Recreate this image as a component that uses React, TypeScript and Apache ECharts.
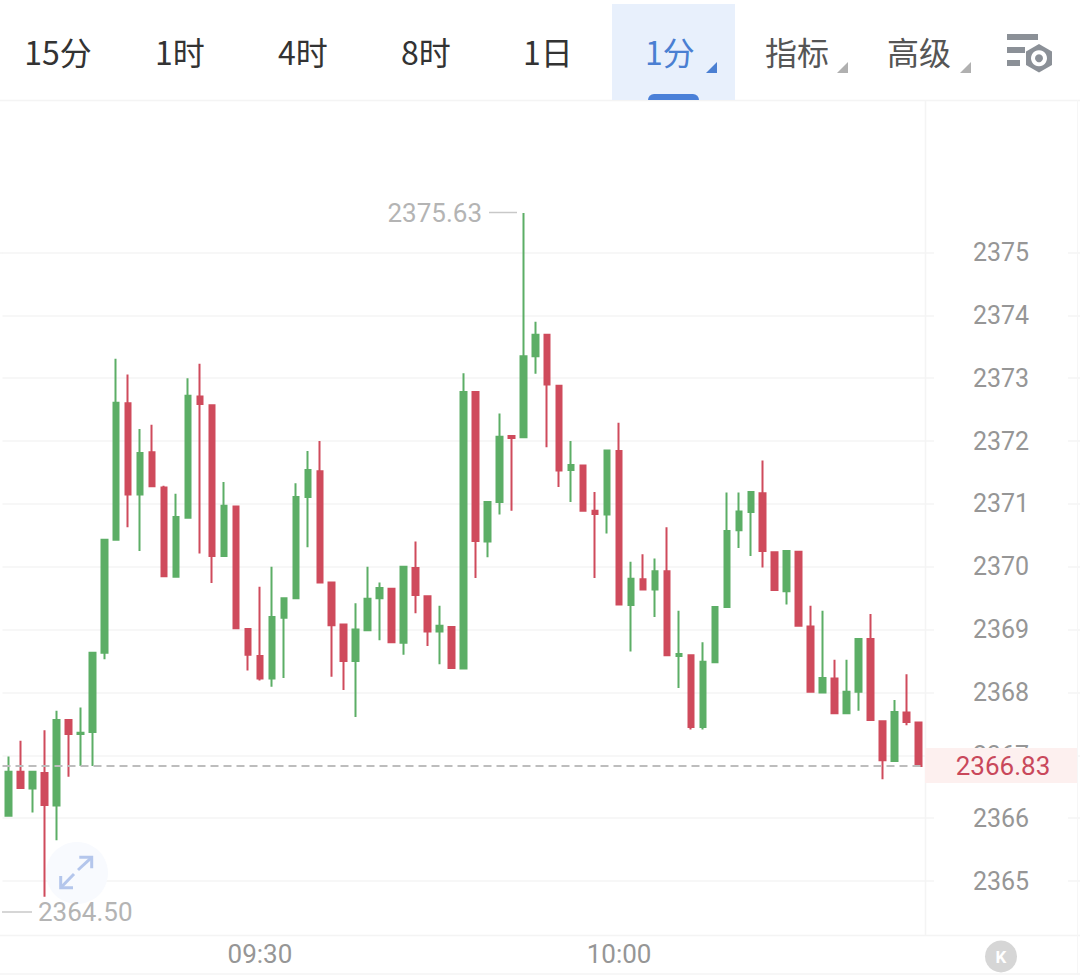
import React, { useEffect, useRef } from "react";
import * as echarts from "echarts";

const opens = [2366.04,2366.74,2366.47,2366.72,2366.20,2367.56,2367.34,2367.37,2368.63,2370.43,2372.60,2371.15,2371.82,2371.26,2369.84,2370.78,2372.71,2372.57,2370.17,2370.96,2369.01,2368.58,2368.22,2369.19,2369.50,2371.11,2371.52,2369.75,2369.08,2368.50,2368.99,2369.50,2369.65,2368.79,2369.98,2369.53,2368.97,2369.04,2368.38,2372.78,2370.40,2371.03,2372.08,2372.06,2373.35,2373.69,2372.88,2371.54,2371.61,2370.89,2370.83,2371.84,2369.39,2369.80,2369.64,2369.93,2368.58,2368.59,2367.45,2368.48,2369.36,2370.58,2370.87,2371.17,2370.23,2369.61,2370.24,2369.05,2368.00,2368.22,2367.67,2368.01,2368.85,2367.54,2366.91,2367.68,2367.52];
const closes = [2366.74,2366.48,2366.74,2366.21,2367.56,2367.34,2367.36,2368.63,2370.43,2372.61,2371.15,2371.81,2371.28,2369.85,2370.79,2372.72,2372.59,2370.17,2370.97,2369.02,2368.60,2368.22,2369.20,2369.50,2371.11,2371.54,2369.75,2369.07,2368.50,2369.00,2369.49,2369.66,2368.80,2370.00,2369.55,2368.97,2369.06,2368.39,2372.78,2370.41,2371.03,2372.07,2372.05,2373.35,2373.69,2372.90,2371.53,2371.62,2370.89,2370.84,2371.85,2369.40,2369.81,2369.64,2369.93,2368.59,2368.61,2367.45,2368.49,2369.36,2370.57,2370.88,2371.19,2370.25,2369.63,2370.25,2369.06,2368.01,2368.23,2367.67,2368.01,2368.85,2367.56,2366.92,2367.69,2367.53,2366.83];
const lows = [2366.04,2366.48,2366.09,2364.75,2365.65,2366.66,2366.83,2366.83,2368.53,2370.43,2370.63,2370.25,2371.28,2369.85,2369.84,2370.78,2370.21,2369.74,2370.17,2369.02,2368.35,2368.19,2368.09,2368.23,2369.50,2370.31,2369.75,2368.25,2368.04,2367.61,2368.99,2368.83,2368.80,2368.60,2369.26,2368.74,2368.45,2368.39,2368.38,2369.82,2370.15,2370.83,2370.89,2372.06,2373.07,2371.90,2371.27,2371.03,2370.89,2369.82,2370.53,2369.40,2368.65,2369.64,2369.20,2368.59,2368.07,2367.41,2367.41,2368.48,2369.36,2370.30,2370.17,2369.99,2369.63,2369.40,2369.06,2368.01,2368.00,2367.67,2367.67,2367.71,2367.56,2366.62,2366.91,2367.48,2366.83];
const highs = [2366.98,2367.23,2366.74,2367.40,2367.71,2367.56,2367.76,2368.63,2370.43,2373.31,2373.06,2372.19,2372.26,2371.29,2371.16,2373.00,2373.23,2372.57,2371.35,2370.96,2369.01,2369.68,2370.00,2369.50,2371.33,2371.84,2372.00,2369.75,2369.08,2369.42,2370.00,2369.75,2369.65,2370.00,2370.40,2369.53,2369.38,2369.04,2373.08,2372.78,2371.03,2372.44,2372.08,2375.63,2373.90,2373.69,2372.88,2372.00,2371.61,2371.19,2371.85,2372.29,2370.08,2370.20,2370.13,2370.63,2369.30,2368.59,2368.80,2369.36,2371.18,2371.18,2371.19,2371.69,2370.23,2370.25,2370.24,2369.38,2369.30,2368.52,2368.52,2368.85,2369.25,2367.54,2367.88,2368.29,2367.52];

const timeTicks = ["09:30", "10:00"];
const periodTabs = ["15分", "1时", "4时", "8时", "1日", "1分", "指标", "高级"];
const tabCentres = [58, 180, 303, 426, 548, 670, 797, 919];
const lastPrice = 2366.83;
const highLabel = "2375.63";
const lowLabel = "2364.50";

const GREEN = "#5cae66";
const RED = "#cf4b5c";
const LINE = "#f4f4f4";
const FONT = "Roboto, 'Noto Sans', sans-serif";
const CJK = "'Noto Sans CJK SC', 'Noto Sans', sans-serif";

// one-minute categories, starting 21 minutes before 09:30
const categories: string[] = [];
for (let i = 0; i < 90; i++) {
  const m = 9 * 60 + 9 + i;
  categories.push(`${String(Math.floor(m / 60)).padStart(2, "0")}:${String(m % 60).padStart(2, "0")}`);
}

const hline = (x1: number, x2: number, y: number, stroke = LINE, lineWidth = 1.5) => ({
  type: "line", z: 100, silent: true, shape: { x1, y1: y, x2, y2: y }, style: { stroke, lineWidth },
});
const vline = (x: number, y1: number, y2: number, stroke = LINE, lineWidth = 1.5) => ({
  type: "line", z: 100, silent: true, shape: { x1: x, y1, x2: x, y2 }, style: { stroke, lineWidth },
});
const label = (text: string, x: number, y: number, fill: string, font: string, textAlign = "center") => ({
  type: "text", z: 110, silent: true, style: { text, x, y, fill, font, textAlign, textVerticalAlign: "middle" },
});
const tri = (xr: number, fill: string) => ({
  type: "polygon", z: 110, silent: true, shape: { points: [[xr, 62], [xr, 73], [xr - 11, 73]] }, style: { fill },
});
const bar = (x: number, y: number, width: number, height: number, fill: string, r: any = 0, z = 105) => ({
  type: "rect", z, silent: true, shape: { x, y, width, height, r }, style: { fill },
});
const arrow = (points: number[][]) => ({
  type: "polyline", z: 110, silent: true, shape: { points },
  style: { stroke: "#b4c6ec", lineWidth: 3, fill: "none" },
});

export default function App() {
  const ref = useRef<HTMLDivElement>(null);
  useEffect(() => {
    const chart = echarts.init(ref.current!, null, { renderer: "svg" });
    const iconGrey = "#8b9097";
    chart.setOption({
      animation: false,
      backgroundColor: "#ffffff",
      grid: { left: 2.5, top: 189.65, width: 1080, height: 754.2, containLabel: false },
      xAxis: {
        type: "category",
        data: categories,
        boundaryGap: true,
        axisLine: { show: false },
        axisTick: { show: false },
        splitLine: { show: false },
        axisLabel: {
          interval: 0,
          margin: -3,
          color: "#969696",
          fontFamily: FONT,
          fontSize: 26,
          formatter: (v: string) => (timeTicks.includes(v) ? v : ""),
        },
      },
      yAxis: {
        type: "value",
        position: "right",
        min: 2364,
        max: 2376,
        interval: 1,
        axisLine: { show: false },
        axisTick: { show: false },
        splitLine: { show: true, showMinLine: false, showMaxLine: false, lineStyle: { color: LINE, width: 1.5 } },
        axisLabel: {
          inside: true,
          margin: 79,
          align: "center",
          showMinLabel: false,
          showMaxLabel: false,
          color: "#969696",
          fontFamily: FONT,
          fontSize: 25,
          backgroundColor: "#ffffff",
          padding: [1, 39],
          formatter: (v: number) => String(v),
        },
      },
      series: [
        {
          type: "candlestick",
          barWidth: 6,
          data: opens.map((o, i) => [o, closes[i], lows[i], highs[i]]),
          itemStyle: { color: GREEN, color0: RED, borderColor: GREEN, borderColor0: RED, borderWidth: 2 },
          markLine: {
            silent: true,
            symbol: "none",
            animation: false,
            label: { show: false },
            lineStyle: { color: "#bdbdbd", type: [8, 5], width: 2 },
            data: [{ yAxis: lastPrice }],
          },
        },
      ],
      graphic: {
        elements: [
          // header
          bar(612, 4, 123, 96, "#e8f0fc", 0, 101),
          bar(648, 94, 51, 6, "#4a80d8", [6, 6, 0, 0]),
          hline(0, 1080, 100.5),
          ...periodTabs.map((t, i) =>
            label(t, tabCentres[i], 51, i === 5 ? "#4a7fd2" : i > 5 ? "#555555" : "#333333", `32px ${CJK}`)
          ),
          tri(717, "#4a7fd2"),
          tri(848, "#b0b0b0"),
          tri(971, "#b0b0b0"),
          bar(1007, 34, 31, 6, iconGrey),
          bar(1007, 47, 18, 6, iconGrey),
          bar(1007, 60, 13, 6, iconGrey),
          {
            type: "polygon", z: 106, silent: true,
            shape: { points: [[1039, 44], [1052, 51.5], [1052, 65], [1039, 72.5], [1026, 65], [1026, 51.5]] },
            style: { fill: iconGrey },
          },
          { type: "circle", z: 107, silent: true, shape: { cx: 1039, cy: 58.3, r: 8 }, style: { fill: "#ffffff" } },
          { type: "circle", z: 108, silent: true, shape: { cx: 1039, cy: 58.3, r: 4 }, style: { fill: iconGrey } },

          // frame lines
          vline(925.5, 100, 935),
          hline(0, 1080, 935.5),
          hline(0, 1080, 974),
          vline(1077.5, 100, 975, "#f6f6f6", 1),
          hline(0, 3, 253, LINE),

          // last price tag
          bar(925, 748, 152, 35, "#fdf0ef"),
          label("2366.83", 1003, 766, "#c9485b", `26px ${FONT}`),

          // extreme labels
          label(highLabel, 482, 212.5, "#b4b4b4", `26px ${FONT}`, "right"),
          hline(489, 517, 212.5, "#c8c8c8", 1.5),
          label(lowLabel, 38, 912, "#b4b4b4", `26px ${FONT}`, "left"),
          hline(2, 32, 912, "#c8c8c8", 1.5),

          // expand button
          { type: "circle", z: 1, silent: true, shape: { cx: 77, cy: 873, r: 31 }, style: { fill: "#f8fafe" } },
          arrow([[78, 870], [91.7, 857.3]]),
          arrow([[79.3, 857.3], [91.7, 857.3], [91.7, 868.3]]),
          arrow([[74, 874], [60.7, 887.7]]),
          arrow([[60.7, 876], [60.7, 887.7], [73, 887.7]]),

          // K button
          { type: "circle", z: 106, silent: true, shape: { cx: 1001, cy: 956.5, r: 16 }, style: { fill: "#d6d6d6" } },
          label("K", 1001, 956.5, "#ffffff", `bold 17px ${FONT}`),
        ],
      },
    });
    return () => chart.dispose();
  }, []);
  return <div ref={ref} style={{ position: "absolute", left: 0, top: 0, width: 1080, height: 975 }} />;
}
